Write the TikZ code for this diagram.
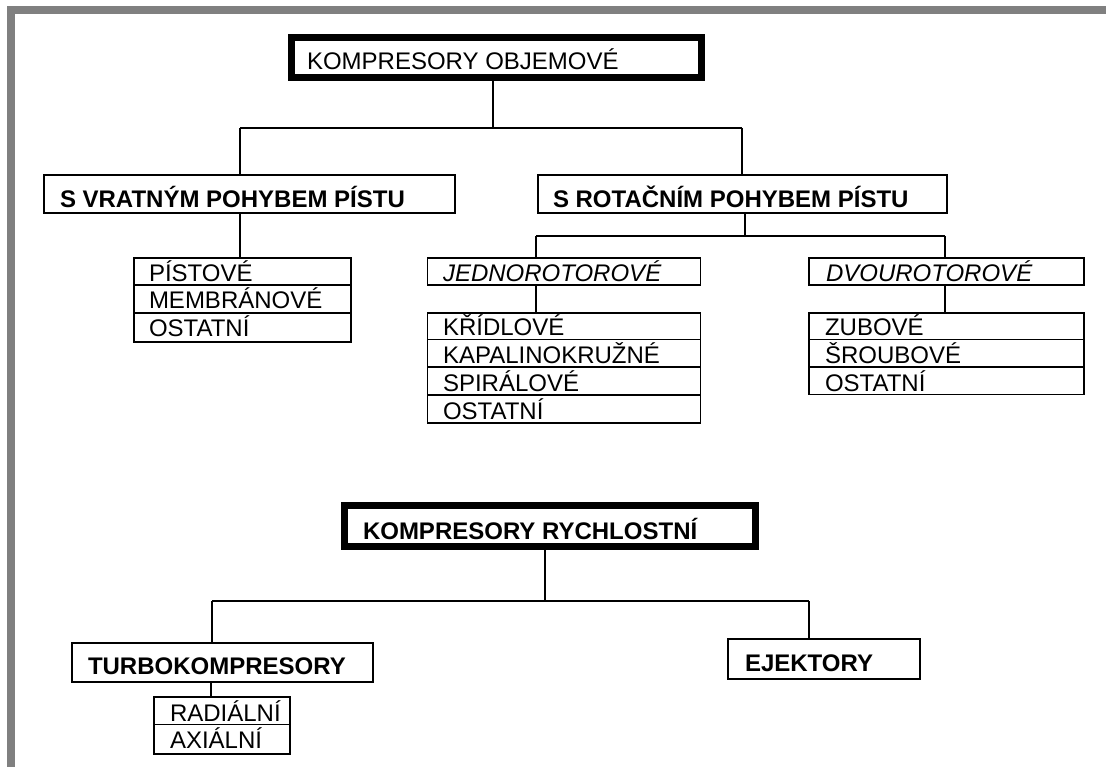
\documentclass[tikz,border=0pt]{standalone}
\usepackage{fontspec}
\setmainfont{Liberation Sans}
\definecolor{bordergray}{HTML}{808080}
\begin{document}
\begin{tikzpicture}[x=1pt,y=-1pt,
  box/.style={draw, line width=1.8pt, rectangle, inner sep=0pt, outer sep=0pt, anchor=north west},
  heavybox/.style={box, line width=7pt},
  lbl/.style={inner sep=0pt, outer sep=0pt, anchor=base west, font=\fontsize{24}{28}\selectfont},
  blbl/.style={lbl, font=\fontsize{24}{28}\selectfont\bfseries},
  ilbl/.style={lbl, font=\fontsize{24}{28}\selectfont\itshape},
  conn/.style={line width=1.8pt}]
\useasboundingbox (0,0) rectangle (1106,767);
% page frame
\fill[bordergray] (7,6) rectangle (1106,14);
\fill[bordergray] (7,6) rectangle (15,767);

% ===== KOMPRESORY OBJEMOVE =====
\node[heavybox, minimum width=410pt, minimum height=40pt] (obj) at (291.5,37.5) {};
\node[lbl] (tobj) at (307,70) {KOMPRESORY OBJEMOVÉ};

\node[box, minimum width=411pt, minimum height=38pt] (vrat) at (44,175) {};
\node[blbl] (tvrat) at (60,207.5) {S VRATNÝM POHYBEM PÍSTU};

\node[box, minimum width=409pt, minimum height=38pt] (rot) at (538,175) {};
\node[blbl] (trot) at (553,207.5) {S ROTAČNÍM POHYBEM PÍSTU};

% list under vratny
\node[box, minimum width=217pt, minimum height=27pt] (l1a) at (134,258) {};
\node[box, minimum width=217pt, minimum height=28pt] (l1b) at (134,285) {};
\node[box, minimum width=217pt, minimum height=29pt] (l1c) at (134,313) {};
\node[lbl] (tl1a) at (149,281.5) {PÍSTOVÉ};
\node[lbl] (tl1b) at (149,309) {MEMBRÁNOVÉ};
\node[lbl] (tl1c) at (149,337) {OSTATNÍ};

% jednorotorove
\node[box, minimum width=273pt, minimum height=27pt] (jed) at (427.5,258) {};
\node[ilbl] (tjed) at (443,282) {JEDNOROTOROVÉ};
\node[box, minimum width=273pt, minimum height=26.5pt] (l2a) at (427.5,313) {};
\node[box, minimum width=273pt, minimum height=27.5pt] (l2b) at (427.5,339.5) {};
\node[box, minimum width=273pt, minimum height=28pt] (l2c) at (427.5,367) {};
\node[box, minimum width=273pt, minimum height=28pt] (l2d) at (427.5,395) {};
\node[lbl] (tl2a) at (443,336) {KŘÍDLOVÉ};
\node[lbl] (tl2b) at (443,363.5) {KAPALINOKRUŽNÉ};
\node[lbl] (tl2c) at (443,391.5) {SPIRÁLOVÉ};
\node[lbl] (tl2d) at (443,419.5) {OSTATNÍ};

% dvourotorove
\node[box, minimum width=275pt, minimum height=27pt] (dvo) at (809,258) {};
\node[ilbl] (tdvo) at (826,282) {DVOUROTOROVÉ};
\node[box, minimum width=275pt, minimum height=26.5pt] (l3a) at (809,313) {};
\node[box, minimum width=275pt, minimum height=27.5pt] (l3b) at (809,339.5) {};
\node[box, minimum width=275pt, minimum height=27.5pt] (l3c) at (809,367) {};
\node[lbl] (tl3a) at (825,336) {ZUBOVÉ};
\node[lbl] (tl3b) at (825,363.5) {ŠROUBOVÉ};
\node[lbl] (tl3c) at (825,391) {OSTATNÍ};

% connectors top group
\coordinate (j1) at (493,128);
\coordinate (jl) at (240,128);
\coordinate (jr) at (742,128);
\draw[conn] (obj.south -| j1) -- (j1);
\draw[conn] (jl) -- (jr);
\draw[conn] (jl) -- (vrat.north -| jl);
\draw[conn] (jr) -- (rot.north -| jr);
\draw[conn] (vrat.south -| jl) -- (l1a.north -| jl);
\coordinate (r1) at (745,236);
\coordinate (rl) at (536,236);
\coordinate (rr) at (945,236);
\draw[conn] (rot.south -| r1) -- (r1);
\draw[conn] (rl) -- (rr);
\draw[conn] (rl) -- (jed.north -| rl);
\draw[conn] (rr) -- (dvo.north -| rr);
\draw[conn] (jed.south -| rl) -- (l2a.north -| rl);
\draw[conn] (dvo.south -| rr) -- (l3a.north -| rr);

% ===== KOMPRESORY RYCHLOSTNI =====
\node[heavybox, minimum width=411pt, minimum height=41pt] (kr) at (344.5,505.5) {};
\node[blbl] (tkr) at (363,539) {KOMPRESORY RYCHLOSTNÍ};

\node[box, minimum width=301pt, minimum height=39pt] (turbo) at (72,643) {};
\node[blbl] (tturbo) at (88,674) {TURBOKOMPRESORY};

\node[box, minimum width=192pt, minimum height=40pt] (ejek) at (728,639) {};
\node[blbl] (tejek) at (745,671) {EJEKTORY};

\node[box, minimum width=136pt, minimum height=27.5pt] (l4a) at (154,697) {};
\node[box, minimum width=136pt, minimum height=29.5pt] (l4b) at (154,724.5) {};
\node[lbl] (tl4a) at (170,721) {RADIÁLNÍ};
\node[lbl] (tl4b) at (170,748) {AXIÁLNÍ};

\coordinate (k1) at (545,601);
\coordinate (kl) at (212,601);
\coordinate (kr2) at (809,601);
\coordinate (t1) at (211,0);
\draw[conn] (kr.south -| k1) -- (k1);
\draw[conn] (kl) -- (kr2);
\draw[conn] (kl) -- (turbo.north -| kl);
\draw[conn] (kr2) -- (ejek.north -| kr2);
\draw[conn] (turbo.south -| t1) -- (l4a.north -| t1);
\end{tikzpicture}
\end{document}
